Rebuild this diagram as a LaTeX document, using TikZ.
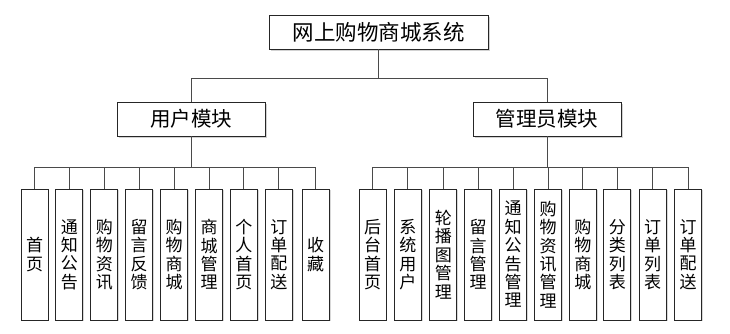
\documentclass[tikz,border=0pt]{standalone}
\usepackage{fontspec}
\setmainfont{Noto Sans CJK SC}
\usetikzlibrary{
  positioning,
  shadows
}
\definecolor{LineGray}{HTML}{4A4A4A}
\tikzset{
  % Top system box
  sysbox/.style={
    rectangle, draw=black!85, fill=white, line width=0.9pt,
    minimum width=219pt, minimum height=34pt, inner sep=0pt,
    font=\fontsize{21.5}{24}\selectfont,
    drop shadow={shadow xshift=1.6pt, shadow yshift=-1.6pt, fill=black!35}
  },
  % Module box
  modbox/.style={
    rectangle, draw=black!85, fill=white, line width=0.9pt,
    minimum width=148pt, minimum height=34pt, inner sep=0pt,
    font=\fontsize{20.5}{23}\selectfont,
    drop shadow={shadow xshift=1.6pt, shadow yshift=-1.6pt, fill=black!35}
  },
  % Tall leaf box, text stacked vertically
  leaf/.style={
    rectangle, draw=black!85, fill=white, line width=0.9pt,
    minimum width=27pt, minimum height=131pt, inner sep=0pt,
    align=center, font=\fontsize{17}{18.4}\selectfont,
    drop shadow={shadow xshift=1.4pt, shadow yshift=-1.4pt, fill=black!30}
  },
  % Connector
  conn/.style={draw=LineGray, line width=0.9pt}
}

\begin{document}
\begin{tikzpicture}[x=1pt, y=-1pt]
  \useasboundingbox (0,0) rectangle (730,334);

  % Top and modules
  \node[sysbox] (sys)   at (378.5,32) {网上购物商城系统};
  \node[modbox] (user)  at (191,119)  {用户模块};
  \node[modbox] (admin) at (547,119)  {管理员模块};

  % User leaves
  \node[leaf] (u1) at (34.5,254.5) {首\\页};
  \node[leaf, right=7pt of u1] (u2) {通\\知\\公\\告};
  \node[leaf, right=7pt of u2] (u3) {购\\物\\资\\讯};
  \node[leaf, right=7pt of u3] (u4) {留\\言\\反\\馈};
  \node[leaf, right=7pt of u4] (u5) {购\\物\\商\\城};
  \node[leaf, right=7pt of u5] (u6) {商\\城\\管\\理};
  \node[leaf, right=7pt of u6] (u7) {个\\人\\首\\页};
  \node[leaf, right=7pt of u7] (u8) {订\\单\\配\\送};
  \node[leaf, right=9pt of u8] (u9) {收\\藏};

  % Admin leaves
  \node[leaf] (a1) at (372.5,254.5) {后\\台\\首\\页};
  \node[leaf, right=7.5pt of a1] (a2) {系\\统\\用\\户};
  \node[leaf, right=7.5pt of a2] (a3) {轮\\播\\图\\管\\理};
  \node[leaf, right=7pt of a3]   (a4) {留\\言\\管\\理};
  \node[leaf, right=7pt of a4]   (a5) {通\\知\\公\\告\\管\\理};
  \node[leaf, right=7pt of a5]   (a6) {购\\物\\资\\讯\\管\\理};
  \node[leaf, right=7pt of a6]   (a7) {购\\物\\商\\城};
  \node[leaf, right=6.5pt of a7] (a8) {分\\类\\列\\表};
  \node[leaf, right=7.5pt of a8] (a9) {订\\单\\列\\表};
  \node[leaf, right=7.5pt of a9] (a10) {订\\单\\配\\送};

  % Connectors
  \draw[conn] (sys.south) -- ++(0,29) -| (user.north);
  \draw[conn] (sys.south) -- ++(0,29) -| (admin.north);
  \foreach \n in {u1,u2,u3,u4,u5,u6,u7,u8,u9}
    \draw[conn] (user.south) -- ++(0,31) -| (\n.north);
  \foreach \n in {a1,a2,a3,a4,a5,a6,a7,a8,a9,a10}
    \draw[conn] (admin.south) -- ++(0,31) -| (\n.north);
\end{tikzpicture}
\end{document}
